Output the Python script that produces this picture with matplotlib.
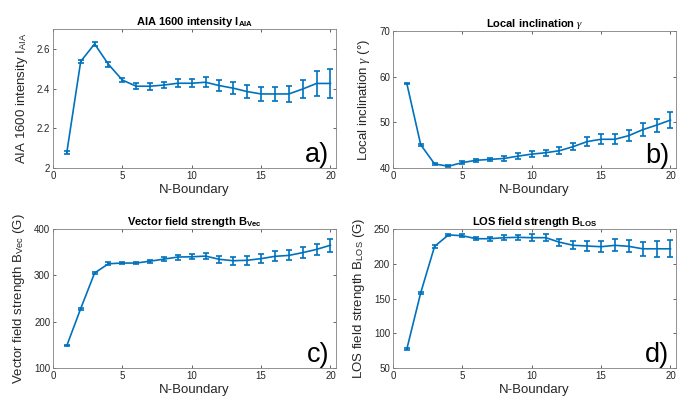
import numpy as np
import matplotlib
matplotlib.use('Agg')
import matplotlib.pyplot as plt

# Дані
n_boundary = list(range(1, 21))

aia = [2.08, 2.537, 2.625, 2.522, 2.443, 2.412, 2.412, 2.418, 2.427, 2.427,
       2.432, 2.415, 2.402, 2.385, 2.373, 2.373, 2.373, 2.398, 2.426, 2.426]
aia_err = [0.008, 0.008, 0.008, 0.011, 0.01, 0.016, 0.018, 0.017, 0.021, 0.02,
           0.026, 0.029, 0.03, 0.031, 0.034, 0.036, 0.04, 0.044, 0.062, 0.074]

incl = [58.5, 45.1, 40.9, 40.4, 41.2, 41.7, 41.9, 42.1, 42.6, 43.05,
        43.35, 43.8, 44.7, 45.8, 46.3, 46.3, 47.1, 48.4, 49.4, 50.5]
incl_err = [0.2, 0.2, 0.2, 0.2, 0.3, 0.35, 0.4, 0.45, 0.6, 0.7,
            0.65, 0.75, 0.8, 1.0, 1.1, 1.1, 1.2, 1.4, 1.4, 1.8]

bvec = [148.5, 228.3, 305.0, 325.0, 326.5, 326.5, 330.5, 335.0, 339.5, 340.0,
        341.5, 334.5, 331.5, 332.5, 336.0, 341.0, 343.0, 349.0, 356.0, 365.0]
bvec_err = [1.8, 2.2, 2.5, 2.9, 2.9, 2.9, 3.6, 3.6, 5.4, 5.8,
            6.0, 7.2, 8.6, 9.7, 10.0, 10.5, 10.8, 11.5, 12.6, 14.0]

blos = [77.4, 158.2, 225.0, 241.5, 240.3, 236.0, 236.0, 237.5, 238.0, 237.5,
        237.5, 231.0, 226.5, 225.5, 224.5, 226.5, 225.0, 221.5, 221.5, 221.5]
blos_err = [1.2, 1.4, 1.7, 1.4, 1.9, 2.4, 2.9, 3.4, 3.6, 4.6,
            5.0, 4.8, 6.0, 6.7, 7.7, 8.7, 8.7, 10.0, 11.3, 12.5]

x_ticks = [0, 5, 10, 15, 20]
aia_ticks = [2, 2.2, 2.4, 2.6]
aia_ticklabels = ['2', '2.2', '2.4', '2.6']
incl_ticks = [40, 50, 60, 70]
bvec_ticks = [100, 200, 300, 400]
blos_ticks = [50, 100, 150, 200, 250]

# Шрифти у стилі MATLAB
plt.rcParams['font.family'] = ['Liberation Sans', 'DejaVu Sans']
plt.rcParams['mathtext.fontset'] = 'custom'
plt.rcParams['mathtext.rm'] = 'Liberation Sans'
plt.rcParams['mathtext.bf'] = 'Liberation Sans:bold'
plt.rcParams['mathtext.it'] = 'Liberation Serif:italic'

blue = '#0072BD'
gray = '#262626'

fig = plt.figure(figsize=(6.87, 4.03), dpi=100)

panels = [
    # (left, bottom, width, height), y, err, ylim, yticks, ytick labels, title, ylabel, letter
    ((0.0771, 0.583, 0.412, 0.345), aia, aia_err, (2, 2.7), aia_ticks, aia_ticklabels,
     r'AIA 1600 intensity I$_{\mathbf{AIA}}$', r'AIA 1600 intensity I$_{\mathrm{AIA}}$', 'a)'),
    ((0.572, 0.583, 0.412, 0.340), incl, incl_err, (40, 70), incl_ticks, None,
     r'Local inclination $\gamma$', r'Local inclination $\gamma$ (°)', 'b)'),
    ((0.0771, 0.0868, 0.412, 0.345), bvec, bvec_err, (100, 400), bvec_ticks, None,
     r'Vector field strength B$_{\mathbf{Vec}}$', r'Vector field strength B$_{\mathrm{Vec}}$ (G)', 'c)'),
    ((0.572, 0.0868, 0.412, 0.345), blos, blos_err, (50, 250), blos_ticks, None,
     r'LOS field strength B$_{\mathbf{LOS}}$', r'LOS field strength B$_{\mathrm{LOS}}$ (G)', 'd)'),
]

for pos, y, err, ylim, yticks, ylabels, title, ylabel, letter in panels:
    ax = fig.add_axes(pos)
    ax.errorbar(n_boundary, y, yerr=err, color=blue, linewidth=1.2,
                elinewidth=1.2, capsize=2.4, capthick=1.2)
    ax.set_xlim(0, 20.4)
    ax.set_ylim(*ylim)
    ax.set_xticks(x_ticks)
    ax.set_yticks(yticks)
    if ylabels is not None:
        ax.set_yticklabels(ylabels)
    ax.tick_params(direction='in', length=2.5, width=0.5, colors=gray,
                   labelsize=7, pad=2, top=True, right=True)
    for sp in ax.spines.values():
        sp.set_color('#808080')
        sp.set_linewidth(0.6)
    ax.set_title(title, fontsize=8, fontweight='bold', pad=3)
    ax.set_xlabel('N-Boundary', fontsize=9.5, color=gray, labelpad=2)
    ax.set_ylabel(ylabel, fontsize=9.5, color=gray, labelpad=5)
    ax.text(0.975, 0.04, letter, transform=ax.transAxes, ha='right',
            va='baseline', fontsize=19.5, color='black')

plt.savefig('out.png', dpi=100)
